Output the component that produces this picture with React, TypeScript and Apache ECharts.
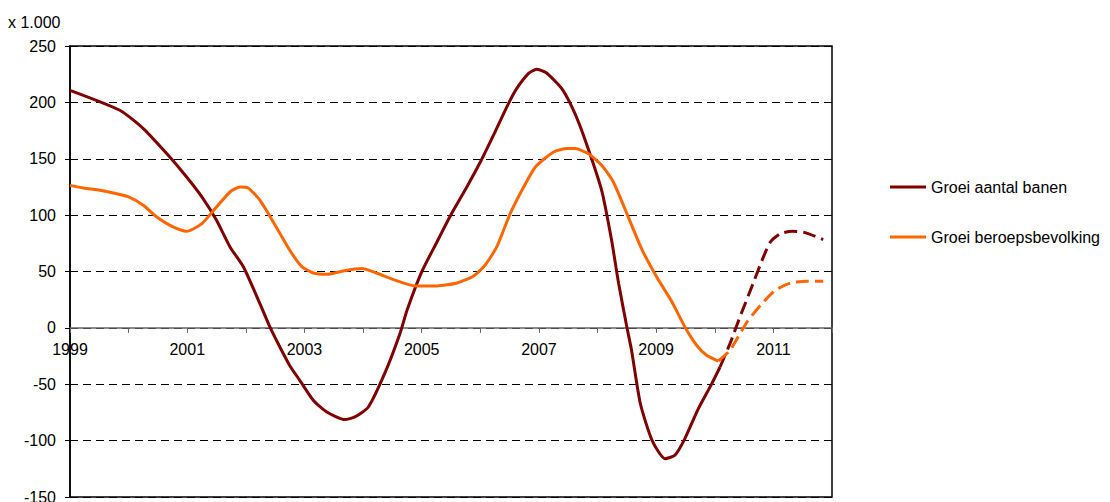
import React, { useEffect, useRef } from "react";
import * as echarts from "echarts";

const seriesNames = ["Groei aantal banen", "Groei beroepsbevolking"];
const unitLabel = "x 1.000";

// [year, value (x 1.000)]
const banenRealised: [number, number][] = [
  [1999.0, 210.7], [1999.85, 193], [2000.25, 176.8], [2000.65, 154.6], [2000.99, 133.8],
  [2001.27, 114.7], [2001.5, 95.4], [2001.73, 71.8], [2001.96, 54], [2002.24, 21.5],
  [2002.41, 0.8], [2002.58, -17], [2002.75, -33.5], [2002.92, -46.5], [2003.15, -64.2],
  [2003.38, -74.6], [2003.69, -81.3], [2003.86, -79], [2004.09, -70.2], [2004.38, -39.1],
  [2004.63, -5], [2004.75, 15.6], [2005.0, 49.6], [2005.26, 76.2], [2005.51, 101.4],
  [2005.77, 125], [2006.0, 147.1], [2006.25, 173.7], [2006.48, 198.9], [2006.62, 212.2],
  [2006.82, 225.5], [2006.96, 229.4], [2007.13, 226.1], [2007.39, 212.2], [2007.59, 193],
  [2007.76, 170.8], [2008.07, 122], [2008.24, 77.7], [2008.36, 39.3], [2008.5, 0.8],
  [2008.58, -19.9], [2008.73, -67.1], [2008.93, -99.7], [2009.15, -116], [2009.32, -113],
  [2009.49, -98.2], [2009.72, -71.6], [2009.95, -49.4], [2010.09, -34.7],
];

const banenForecast: [number, number][] = [
  [2010.09, -34.7], [2010.26, -13.9], [2010.43, 9.7], [2010.63, 36.3], [2010.83, 62.9],
  [2010.95, 76.2], [2011.12, 83.6], [2011.32, 85.7], [2011.54, 84.5], [2011.85, 78.3],
];

const beroepsRealised: [number, number][] = [
  [1999.0, 126.4], [1999.23, 124.1], [1999.51, 122], [1999.74, 119.6], [2000.0, 116.1],
  [2000.25, 108.7], [2000.48, 98.4], [2000.74, 90.1], [2000.99, 85.7], [2001.25, 92.5],
  [2001.5, 107.2], [2001.73, 120.5], [2001.9, 125], [2002.04, 124.1], [2002.24, 113.2],
  [2002.5, 91], [2002.75, 68.8], [2002.95, 54.6], [2003.15, 48.7], [2003.38, 47.5],
  [2003.66, 50.5], [2003.98, 52.6], [2004.23, 48.7], [2004.52, 42.8], [2004.89, 37.2],
  [2005.26, 37.2], [2005.6, 39.8], [2005.88, 45.8], [2006.08, 55.5], [2006.28, 71.8],
  [2006.51, 101.4], [2006.74, 125], [2006.94, 142.7], [2007.25, 156], [2007.48, 159],
  [2007.62, 159], [2007.84, 154.6], [2008.07, 144.2], [2008.27, 129.4], [2008.5, 101.4],
  [2008.75, 70.3], [2009.01, 45.1], [2009.27, 23], [2009.49, 0.8], [2009.69, -15.4],
  [2009.86, -24.3], [2010.06, -29.4],
];

const beroepsForecast: [number, number][] = [
  [2010.06, -29.4], [2010.26, -19.9], [2010.55, 5.2], [2010.78, 20], [2011.03, 33.3],
  [2011.29, 39.8], [2011.57, 41.3], [2011.85, 41.3],
];

const RED = "#800000";
const ORANGE = "#FF6600";
const FONT = "'Liberation Sans', Arial, sans-serif";

const Y_MIN = -150;
const Y_MAX = 250;
const GRID_TOP = 46;
const GRID_BOTTOM = 5;
const GRID_HEIGHT = 502 - GRID_TOP - GRID_BOTTOM;
// move the x axis (line, ticks, labels) from the bottom edge up to the zero line
const X_AXIS_OFFSET = -(GRID_HEIGHT * (0 - Y_MIN)) / (Y_MAX - Y_MIN);

export default function App() {
  const ref = useRef<HTMLDivElement>(null);
  useEffect(() => {
    if (!ref.current) return;
    const chart = echarts.init(ref.current, null, { renderer: "svg" });
    const lineSeries = (name: string, data: [number, number][], color: string, dashed: boolean) => ({
      name,
      type: "line",
      data,
      smooth: 0.2,
      symbol: "none",
      itemStyle: { color },
      lineStyle: { color, width: 3, type: dashed ? [13, 6] : "solid" },
      z: dashed ? 2 : 3,
    });
    chart.setOption({
      animation: false,
      textStyle: { fontFamily: FONT },
      grid: {
        left: 70,
        right: 278,
        top: GRID_TOP,
        bottom: GRID_BOTTOM,
        outerBoundsMode: "none",
        containLabel: false,
        show: true,
        borderColor: "#000",
        borderWidth: 1.5,
        backgroundColor: "transparent",
      },
      graphic: [
        {
          type: "text",
          left: 8,
          top: 14,
          style: { text: unitLabel, fontSize: 16, fill: "#000", fontFamily: FONT },
        },
      ],
      legend: {
        data: seriesNames,
        orient: "vertical",
        left: 885,
        top: 172,
        icon: "rect",
        itemWidth: 36,
        itemHeight: 3,
        itemGap: 30,
        selectedMode: false,
        textStyle: { fontSize: 16, color: "#000", fontFamily: FONT, lineHeight: 20 },
      },
      xAxis: {
        type: "value",
        min: 1999,
        max: 2012,
        interval: 1,
        position: "bottom",
        offset: X_AXIS_OFFSET,
        axisLine: { onZero: false, lineStyle: { color: "#666", width: 1.5 } },
        axisTick: { show: true, length: 5, lineStyle: { color: "#666" } },
        axisLabel: {
          margin: 14,
          fontSize: 16,
          color: "#000",
          fontFamily: FONT,
          showMinLabel: true,
          showMaxLabel: true,
          hideOverlap: false,
          formatter: (v: number) => (Math.round(v) % 2 === 1 && v < 2012 ? String(v) : ""),
        },
        splitLine: { show: false },
      },
      yAxis: {
        type: "value",
        min: Y_MIN,
        max: Y_MAX,
        interval: 50,
        axisLine: { show: true, onZero: false, lineStyle: { color: "#000", width: 1.5 } },
        axisTick: { show: true, length: 5, lineStyle: { color: "#000" } },
        axisLabel: { margin: 14, fontSize: 16, color: "#000", fontFamily: FONT },
        splitLine: { show: true, lineStyle: { color: "#000", width: 1, type: [8, 5] } },
      },
      series: [
        lineSeries(seriesNames[0], banenRealised, RED, false),
        lineSeries(seriesNames[0], banenForecast, RED, true),
        lineSeries(seriesNames[1], beroepsRealised, ORANGE, false),
        lineSeries(seriesNames[1], beroepsForecast, ORANGE, true),
      ],
    });
    return () => chart.dispose();
  }, []);
  return (
    <div
      ref={ref}
      style={{ position: "fixed", left: 0, top: 0, width: 1110, height: 502, background: "#fff" }}
    />
  );
}
